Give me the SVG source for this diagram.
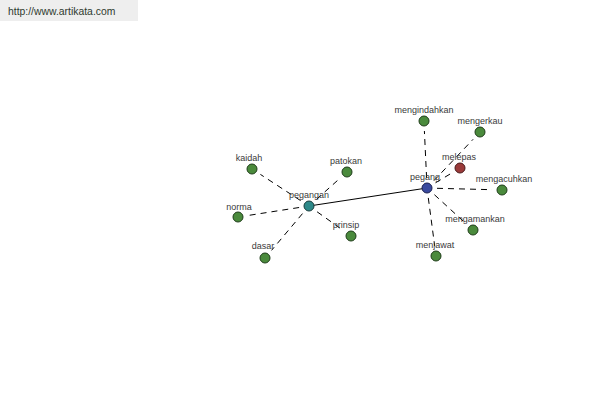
<svg xmlns="http://www.w3.org/2000/svg" width="600" height="400" viewBox="0 0 600 400">
<style>
.lbl{font-family:"Liberation Sans",Arial,sans-serif;font-size:9px;fill:#3a3a3a;text-anchor:middle}
.leaf{fill:#4a8a3c;stroke:#1f3d1a;stroke-width:1}
.e{stroke:#000;stroke-width:1;stroke-dasharray:6,5;fill:none}
</style>
<rect width="600" height="400" fill="#fff"/>
<g id="header">
<rect x="0" y="0" width="138" height="21" fill="#eeeeee"/>
<text x="8" y="15" font-family="Liberation Sans,Arial,sans-serif" font-size="10.4" fill="#2f3a2f">http://www.artikata.com</text>
</g>
<g id="connectors">
<line x1="309" y1="206" x2="427" y2="188" stroke="#000" stroke-width="1"/>
<line class="e" x1="300.6" y1="200.6" x2="260.4" y2="174.4"/>
<line class="e" x1="316.5" y1="199.3" x2="339.5" y2="178.7"/>
<line class="e" x1="299.1" y1="207.5" x2="247.9" y2="215.5"/>
<line class="e" x1="317.1" y1="211.8" x2="342.9" y2="230.2"/>
<line class="e" x1="302.5" y1="213.6" x2="271.5" y2="250.4"/>
<line class="e" x1="426.6" y1="178" x2="424.4" y2="131"/>
<line class="e" x1="433.9" y1="180.7" x2="473.1" y2="139.3"/>
<line class="e" x1="435.5" y1="182.8" x2="451.5" y2="173.2"/>
<line class="e" x1="437" y1="188.3" x2="492" y2="189.7"/>
<line class="e" x1="434.4" y1="194.7" x2="465.6" y2="223.3"/>
<line class="e" x1="428.3" y1="197.9" x2="434.7" y2="246.1"/>
</g>
<g id="pegangan"><circle cx="309" cy="206" r="5" fill="#2e8a8a" stroke="#1a3d3d"/><text class="lbl" x="309" y="198">pegangan</text></g>
<g id="pegang"><circle cx="427" cy="188" r="5" fill="#3a4a9e" stroke="#1a2050"/><text class="lbl" x="425" y="180">pegang</text></g>
<g id="kaidah"><circle class="leaf" cx="252" cy="169" r="5"/><text class="lbl" x="249" y="161">kaidah</text></g>
<g id="patokan"><circle class="leaf" cx="347" cy="172" r="5"/><text class="lbl" x="346" y="164">patokan</text></g>
<g id="norma"><circle class="leaf" cx="238" cy="217" r="5"/><text class="lbl" x="239" y="210">norma</text></g>
<g id="prinsip"><circle class="leaf" cx="351" cy="236" r="5"/><text class="lbl" x="346" y="228">prinsip</text></g>
<g id="dasar"><circle class="leaf" cx="265" cy="258" r="5"/><text class="lbl" x="263" y="249">dasar</text></g>
<g id="mengindahkan"><circle class="leaf" cx="424" cy="121" r="5"/><text class="lbl" x="424" y="113">mengindahkan</text></g>
<g id="mengerkau"><circle class="leaf" cx="480" cy="132" r="5"/><text class="lbl" x="480" y="124">mengerkau</text></g>
<g id="melepas"><circle cx="460" cy="168" r="5" fill="#9a3a3a" stroke="#4a1a1a"/><text class="lbl" x="459" y="160">melepas</text></g>
<g id="mengacuhkan"><circle class="leaf" cx="502" cy="190" r="5"/><text class="lbl" x="504" y="182">mengacuhkan</text></g>
<g id="mengamankan"><circle class="leaf" cx="473" cy="230" r="5"/><text class="lbl" x="475" y="222">mengamankan</text></g>
<g id="menjawat"><circle class="leaf" cx="436" cy="256" r="5"/><text class="lbl" x="435" y="248">menjawat</text></g>
</svg>
